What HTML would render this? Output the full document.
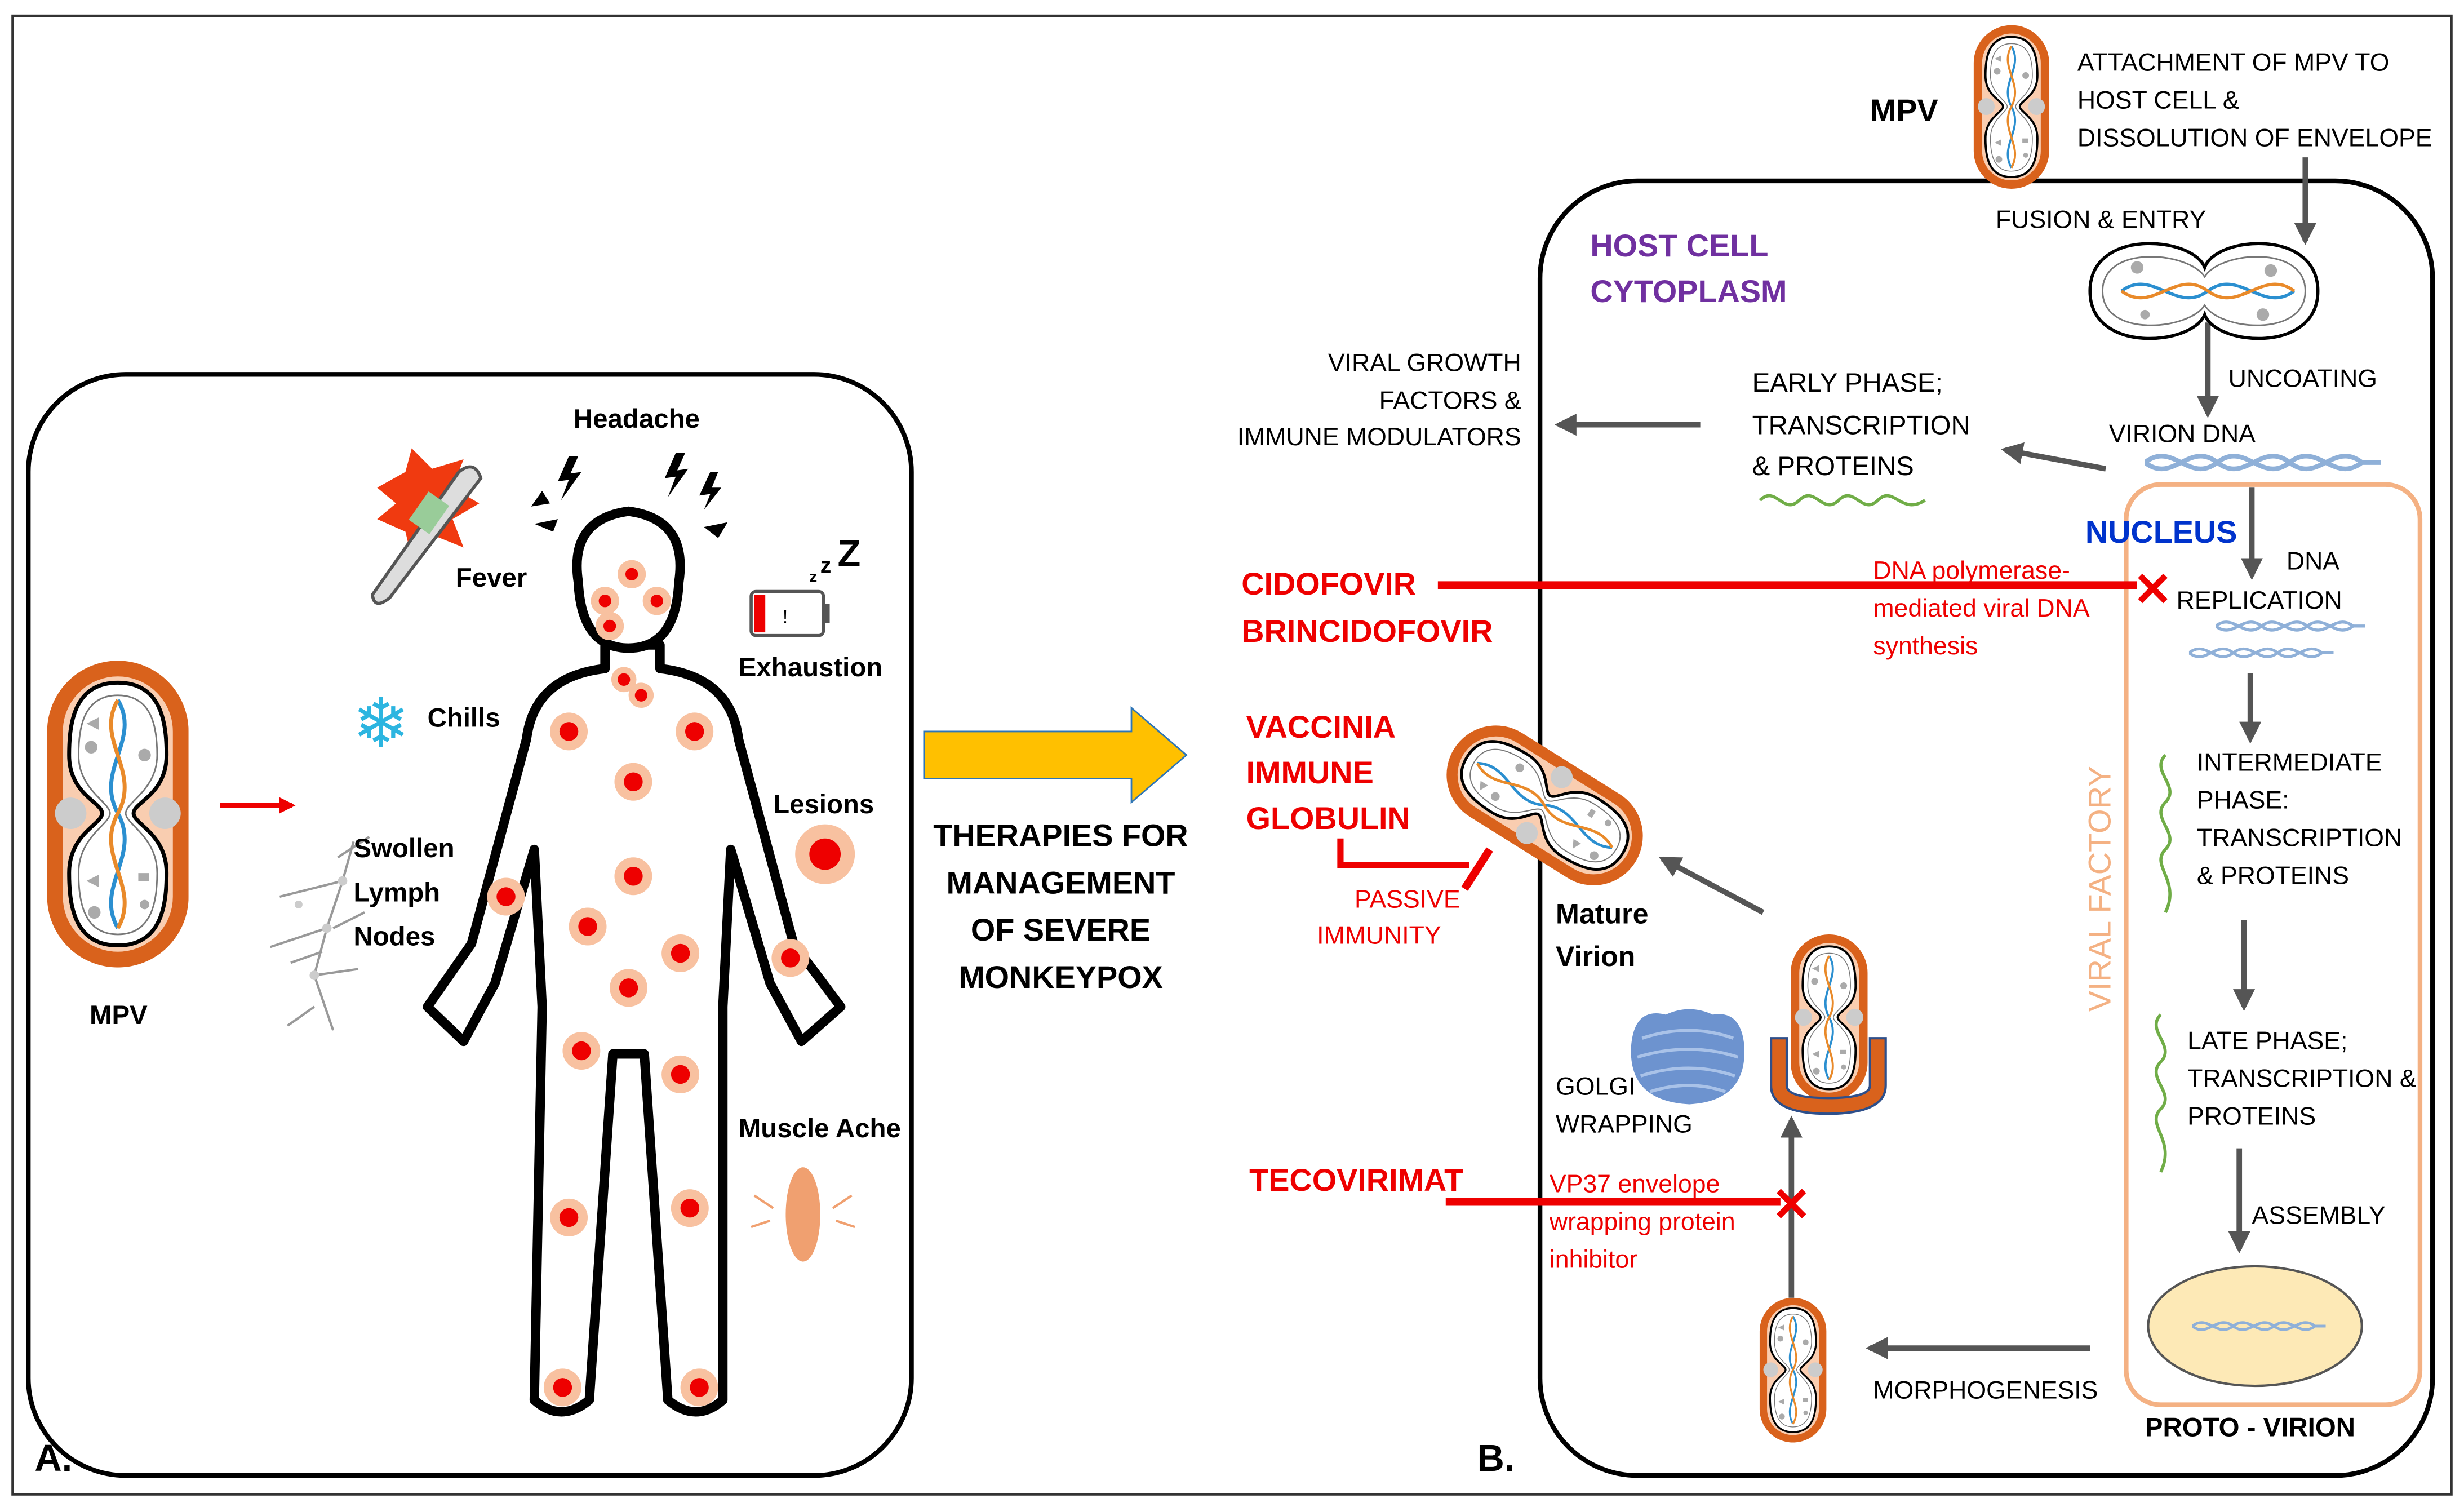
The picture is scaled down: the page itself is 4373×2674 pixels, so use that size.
<!DOCTYPE html>
<html><head><meta charset="utf-8"><style>
html,body{margin:0;padding:0;background:#fff}
svg{display:block}
text{font-family:"Liberation Sans",sans-serif}
</style></head><body>
<svg width="4373" height="2674" viewBox="0 0 1568 958" preserveAspectRatio="none" xmlns="http://www.w3.org/2000/svg">
<defs>
<marker id="ah" viewBox="0 0 10 10" refX="8" refY="5" markerWidth="4" markerHeight="4" orient="auto"><path d="M0,0L10,5L0,10Z" fill="#555"/></marker>
<marker id="ahr" viewBox="0 0 10 10" refX="8" refY="5" markerWidth="3.5" markerHeight="3.5" orient="auto"><path d="M0,0L10,5L0,10Z" fill="#e00"/></marker>
<symbol id="vir" viewBox="0 0 90 195">
<rect x="5" y="5" width="80" height="185" rx="40" fill="#f9cdb0" stroke="#d9621c" stroke-width="10"/>
<circle cx="15" cy="97" r="10" fill="#ccc"/><circle cx="75" cy="97" r="10" fill="#ccc"/>
<path d="M45,14 C73,14 76,40 76,60 C76,85 55,90 55,97 C55,104 76,110 76,135 C76,155 73,181 45,181 C17,181 14,155 14,135 C14,110 35,104 35,97 C35,90 14,85 14,60 C14,40 17,14 45,14Z" fill="#fff" stroke="#000" stroke-width="2.5"/>
<path d="M45,22 C68,22 70,45 70,60 C70,82 50,90 50,97 C50,104 70,112 70,135 C70,150 68,174 45,174 C22,174 20,150 20,135 C20,112 40,104 40,97 C40,90 20,82 20,60 C20,45 22,22 45,22Z" fill="none" stroke="#777" stroke-width="1"/>
<path d="M45,25 C60,50 30,70 45,97 C60,124 30,144 45,170" fill="none" stroke="#2b8fd0" stroke-width="2.5"/>
<path d="M45,25 C30,50 60,70 45,97 C30,124 60,144 45,170" fill="none" stroke="#e98a2a" stroke-width="2.5"/>
<g fill="#aaa"><circle cx="28" cy="55" r="4"/><circle cx="62" cy="60" r="4"/><path d="M25,40l8,-4l0,8z"/><rect x="58" y="135" width="7" height="5"/><path d="M25,140l8,-4l0,8z"/><circle cx="30" cy="160" r="4"/><circle cx="62" cy="155" r="3"/></g>
</symbol>
<symbol id="dna" viewBox="0 0 150 20">
<path d="M0,10 C18,-4 28,24 46,10 C64,-4 74,24 92,10 C110,-4 120,24 138,10 L150,10" fill="none" stroke="#8fb0d8" stroke-width="3"/>
<path d="M0,10 C18,24 28,-4 46,10 C64,24 74,-4 92,10 C110,24 120,-4 138,10 L150,10" fill="none" stroke="#8fb0d8" stroke-width="3"/>
</symbol>
</defs>
<rect x="8" y="10" width="1552" height="940" fill="none" stroke="#333" stroke-width="1.5"/>

<!-- Panel A -->
<rect x="18" y="238" width="562" height="700" rx="62" fill="none" stroke="#000" stroke-width="3"/>
<use href="#vir" x="30" y="420" width="90" height="195"/>
<text x="57" y="651" font-size="17" font-weight="bold">MPV</text>
<line x1="140" y1="512" x2="186" y2="512" stroke="#e00" stroke-width="3" marker-end="url(#ahr)"/>
<path d="M385,410 L385,425 Q340,430 335,470 L300,600 L272,640 L295,662 L315,625 L340,540 L345,640 L340,890 Q357,905 375,890 L390,670 L410,670 L425,890 Q443,905 460,890 L460,640 L465,540 L490,625 L510,662 L535,640 L505,600 L470,470 Q465,430 420,425 L420,410 Z" fill="#fff" stroke="#000" stroke-width="6" stroke-linejoin="round"/>
<path d="M368,370 Q362,330 400,325 Q438,330 432,370 Q430,412 400,412 Q370,412 368,370Z" fill="#fff" stroke="#000" stroke-width="6"/>
<g fill="#f8c1a0">
<circle cx="402" cy="365" r="9"/><circle cx="385" cy="382" r="9"/><circle cx="418" cy="382" r="9"/><circle cx="388" cy="398" r="9"/><circle cx="397" cy="432" r="8"/><circle cx="408" cy="442" r="8"/><circle cx="362" cy="465" r="12"/><circle cx="442" cy="465" r="12"/><circle cx="403" cy="497" r="12"/><circle cx="403" cy="557" r="12"/><circle cx="322" cy="570" r="12"/><circle cx="374" cy="589" r="12"/><circle cx="433" cy="606" r="12"/><circle cx="503" cy="609" r="12"/><circle cx="400" cy="628" r="12"/><circle cx="370" cy="668" r="12"/><circle cx="433" cy="683" r="12"/><circle cx="362" cy="774" r="12"/><circle cx="439" cy="768" r="12"/><circle cx="358" cy="882" r="12"/><circle cx="445" cy="882" r="12"/><circle cx="525" cy="543" r="19"/></g>
<g fill="#e00">
<circle cx="402" cy="365" r="4"/><circle cx="385" cy="382" r="4"/><circle cx="418" cy="382" r="4"/><circle cx="388" cy="398" r="4"/><circle cx="397" cy="432" r="4"/><circle cx="408" cy="442" r="4"/><circle cx="362" cy="465" r="6"/><circle cx="442" cy="465" r="6"/><circle cx="403" cy="497" r="6"/><circle cx="403" cy="557" r="6"/><circle cx="322" cy="570" r="6"/><circle cx="374" cy="589" r="6"/><circle cx="433" cy="606" r="6"/><circle cx="503" cy="609" r="6"/><circle cx="400" cy="628" r="6"/><circle cx="370" cy="668" r="6"/><circle cx="433" cy="683" r="6"/><circle cx="362" cy="774" r="6"/><circle cx="439" cy="768" r="6"/><circle cx="358" cy="882" r="6"/><circle cx="445" cy="882" r="6"/><circle cx="525" cy="543" r="10"/></g>
<text x="365" y="272" font-size="17" font-weight="bold">Headache</text>
<g fill="#000">
<path d="M362,290 L355,306 L362,305 L357,318 L370,300 L363,301 L368,290Z"/>
<path d="M430,288 L423,304 L430,303 L425,316 L438,298 L431,299 L436,288Z"/>
<path d="M345,312 L338,322 L350,320Z"/><path d="M452,300 L445,315 L452,314 L448,324 L459,310 L453,310 L457,300Z"/>
<path d="M340,333 L355,330 L352,338Z"/><path d="M448,335 L463,332 L457,342Z"/></g>
<path d="M240,310 L258,300 L262,285 L275,298 L295,292 L288,310 L305,320 L288,330 L295,348 L275,340 L262,355 L258,338 L240,330 L252,320Z" fill="#f03a10"/>
<path d="M237,378 L292,300 Q302,292 306,304 L248,380 Q238,388 237,378Z" fill="#ddd" stroke="#555" stroke-width="2"/>
<rect x="265" y="315" width="16" height="22" fill="#9c9" transform="rotate(35 273 326)"/>
<text x="290" y="373" font-size="17" font-weight="bold">Fever</text>
<rect x="478" y="376" width="46" height="28" rx="3" fill="#fff" stroke="#555" stroke-width="2"/><rect x="480" y="378" width="7" height="24" fill="#e00"/><rect x="524" y="384" width="4" height="12" fill="#555"/><text x="498" y="396" font-size="12">!</text>
<text x="515" y="370" font-size="10" font-weight="bold">z</text><text x="522" y="364" font-size="14" font-weight="bold">z</text><text x="533" y="360" font-size="24" font-weight="bold">Z</text>
<text x="470" y="430" font-size="17" font-weight="bold">Exhaustion</text>
<text x="224" y="475" font-size="44" fill="#2cb5e0">❄</text>
<text x="272" y="462" font-size="17" font-weight="bold">Chills</text>
<text x="492" y="517" font-size="17" font-weight="bold">Lesions</text>
<g stroke="#999" stroke-width="1.5" fill="none"><path d="M225,535 L218,560 L208,590 L200,620 L212,655"/><path d="M218,560 L178,570 M208,590 L172,602 M200,620 L228,616 M212,590 L232,580 M200,640 L183,652 M215,545 L235,532 M205,605 L185,612"/></g>
<g fill="#ccc"><circle cx="218" cy="560" r="3"/><circle cx="208" cy="590" r="3"/><circle cx="200" cy="620" r="3"/><circle cx="190" cy="575" r="2.5"/></g>
<text x="225" y="545" font-size="17" font-weight="bold">Swollen</text><text x="225" y="573" font-size="17" font-weight="bold">Lymph</text><text x="225" y="601" font-size="17" font-weight="bold">Nodes</text>
<text x="470" y="723" font-size="17" font-weight="bold">Muscle Ache</text>
<ellipse cx="511" cy="772" rx="11" ry="30" fill="#f0a070"/>
<g stroke="#f0a070" stroke-width="1.5"><path d="M480,760l12,8M478,780l12,-4M542,760l-12,8M544,780l-12,-4"/></g>
<text x="22" y="935" font-size="24" font-weight="bold">A.</text>

<!-- Yellow arrow -->
<path d="M588,465 L720,465 L720,450 L755,480 L720,510 L720,495 L588,495Z" fill="#ffc000" stroke="#2e75b6" stroke-width="1"/>
<g font-size="20" font-weight="bold" text-anchor="middle"><text x="675" y="538">THERAPIES FOR</text><text x="675" y="568">MANAGEMENT</text><text x="675" y="598">OF SEVERE</text><text x="675" y="628">MONKEYPOX</text></g>

<!-- Panel B -->
<rect x="980" y="115" width="568" height="823" rx="62" fill="none" stroke="#000" stroke-width="3"/>
<rect x="1353" y="308" width="187" height="585" rx="22" fill="none" stroke="#f4b183" stroke-width="3"/>
<text transform="translate(1343,565) rotate(-90)" font-size="20" fill="#f4b183" text-anchor="middle">VIRAL FACTORY</text>
<use href="#vir" x="1245" y="16" width="70" height="104"/>
<text x="1190" y="77" font-size="20" font-weight="bold">MPV</text>
<g font-size="16"><text x="1322" y="45">ATTACHMENT OF MPV TO</text><text x="1322" y="69">HOST CELL &amp;</text><text x="1322" y="93">DISSOLUTION OF ENVELOPE</text>
<text x="1270" y="145">FUSION &amp; ENTRY</text></g>
<g stroke="#555" stroke-width="3.5" fill="none" marker-end="url(#ah)">
<line x1="1467" y1="100" x2="1467" y2="153"/>
<line x1="1405" y1="205" x2="1405" y2="263"/>
<line x1="1340" y1="298" x2="1276" y2="286"/>
<line x1="1082" y1="270" x2="992" y2="270"/>
<line x1="1433" y1="310" x2="1433" y2="366"/>
<line x1="1432" y1="428" x2="1432" y2="470"/>
<line x1="1428" y1="585" x2="1428" y2="640"/>
<line x1="1425" y1="730" x2="1425" y2="794"/>
<line x1="1330" y1="857" x2="1190" y2="857"/>
<line x1="1140" y1="825" x2="1140" y2="712"/>
<line x1="1122" y1="580" x2="1058" y2="546"/>
</g>
<path d="M1330,185 C1330,145 1395,150 1403,170 C1410,150 1475,145 1475,185 C1475,225 1410,220 1403,200 C1395,220 1330,225 1330,185Z" fill="#fff" stroke="#000" stroke-width="2"/>
<path d="M1338,185 C1338,155 1393,160 1403,176 C1412,160 1467,155 1467,185 C1467,215 1412,210 1403,194 C1393,210 1338,215 1338,185Z" fill="none" stroke="#777" stroke-width="1"/>
<path d="M1350,185 C1370,170 1385,200 1405,185 C1425,170 1440,200 1460,185" fill="none" stroke="#2b8fd0" stroke-width="2"/>
<path d="M1350,185 C1370,200 1385,170 1405,185 C1425,200 1440,170 1460,185" fill="none" stroke="#e98a2a" stroke-width="2"/>
<g fill="#aaa"><circle cx="1360" cy="170" r="4"/><circle cx="1445" cy="172" r="4"/><circle cx="1365" cy="200" r="3"/><circle cx="1440" cy="200" r="4"/></g>
<text x="1012" y="163" font-size="20" font-weight="bold" fill="#7030a0">HOST CELL</text>
<text x="1012" y="192" font-size="20" font-weight="bold" fill="#7030a0">CYTOPLASM</text>
<g font-size="16">
<text x="1418" y="246">UNCOATING</text>
<text x="1342" y="281">VIRION DNA</text>
<text x="1115" y="249" font-size="17">EARLY PHASE;</text><text x="1115" y="276" font-size="17">TRANSCRIPTION</text><text x="1115" y="302" font-size="17">&amp; PROTEINS</text>
<text x="968" y="236" text-anchor="end">VIRAL GROWTH</text><text x="968" y="260" text-anchor="end">FACTORS &amp;</text><text x="968" y="283" text-anchor="end">IMMUNE MODULATORS</text>
<text x="1455" y="362">DNA</text><text x="1385" y="387">REPLICATION</text>
<text x="1398" y="490">INTERMEDIATE</text><text x="1398" y="514">PHASE:</text><text x="1398" y="538">TRANSCRIPTION</text><text x="1398" y="562">&amp; PROTEINS</text>
<text x="1392" y="667">LATE PHASE;</text><text x="1392" y="691">TRANSCRIPTION &amp;</text><text x="1392" y="715">PROTEINS</text>
<text x="1433" y="778">ASSEMBLY</text>
<text x="1192" y="889">MORPHOGENESIS</text>
<text x="990" y="696">GOLGI</text><text x="990" y="720">WRAPPING</text>
</g>
<use href="#dna" x="1365" y="284" width="150" height="20"/>
<use href="#dna" x="1410" y="391" width="95" height="14"/>
<use href="#dna" x="1393" y="408" width="92" height="14"/>
<path d="M1120,318 C1130,308 1135,328 1145,318 C1155,308 1160,328 1170,318 C1180,308 1185,328 1195,318 C1205,308 1210,328 1225,318" fill="none" stroke="#70ad47" stroke-width="2"/>
<path d="M1378,480 C1368,490 1388,500 1378,510 C1368,520 1388,530 1378,540 C1368,550 1388,560 1378,580" fill="none" stroke="#70ad47" stroke-width="2"/>
<path d="M1375,645 C1365,655 1385,665 1375,675 C1365,685 1385,695 1375,705 C1365,715 1385,725 1375,745" fill="none" stroke="#70ad47" stroke-width="2"/>
<text x="1327" y="345" font-size="20" font-weight="bold" fill="#0033cc">NUCLEUS</text>
<ellipse cx="1435" cy="843" rx="68" ry="38" fill="#fde9b6" stroke="#555" stroke-width="1.5"/>
<use href="#dna" x="1395" y="833" width="85" height="20"/>
<text x="1365" y="913" font-size="17" font-weight="bold">PROTO - VIRION</text>
<use href="#vir" x="1112" y="825" width="58" height="92"/>
<use href="#vir" x="1136" y="594" width="56" height="106"/>
<path d="M1127,660 L1127,690 Q1127,708 1163,708 Q1200,708 1200,690 L1200,660 L1190,660 L1190,690 Q1190,698 1163,698 Q1137,698 1137,690 L1137,660Z" fill="#d9621c" stroke="#2e4f8a" stroke-width="1.5"/>
<path d="M1038,665 Q1040,640 1060,645 Q1075,638 1090,645 Q1108,642 1110,665 Q1112,700 1075,702 Q1036,700 1038,665Z" fill="#6d93cf"/>
<g fill="none" stroke="#a9c2e8" stroke-width="2"><path d="M1045,660 Q1075,650 1103,660"/><path d="M1042,672 Q1075,662 1106,672"/><path d="M1044,684 Q1075,674 1104,684"/><path d="M1050,694 Q1075,686 1098,694"/></g>
<g transform="translate(983,512) rotate(32)"><use href="#vir" x="-38" y="-68" width="76" height="136" transform="rotate(-90)"/></g>
<text x="990" y="587" font-size="18" font-weight="bold">Mature</text>
<text x="990" y="614" font-size="18" font-weight="bold">Virion</text>
<!-- drugs -->
<g font-size="20" font-weight="bold" fill="#e00">
<text x="790" y="378">CIDOFOVIR</text><text x="790" y="408">BRINCIDOFOVIR</text>
<text x="793" y="469">VACCINIA</text><text x="793" y="498">IMMUNE</text><text x="793" y="527">GLOBULIN</text>
<text x="795" y="757">TECOVIRIMAT</text></g>
<line x1="915" y1="372" x2="1360" y2="372" stroke="#e00" stroke-width="5"/>
<text x="1370" y="385" font-size="30" font-weight="bold" fill="#e00" text-anchor="middle">✕</text>
<line x1="920" y1="764" x2="1133" y2="764" stroke="#e00" stroke-width="5"/>
<text x="1140" y="776" font-size="30" font-weight="bold" fill="#e00" text-anchor="middle">✕</text>
<path d="M853,533 L853,550 L935,550" fill="none" stroke="#e00" stroke-width="4"/>
<line x1="932" y1="565" x2="948" y2="540" stroke="#e00" stroke-width="5"/>
<g font-size="16" fill="#e00">
<text x="1192" y="368">DNA polymerase-</text><text x="1192" y="392">mediated viral DNA</text><text x="1192" y="416">synthesis</text>
<text x="862" y="577">PASSIVE</text><text x="838" y="600">IMMUNITY</text>
<text x="986" y="758">VP37 envelope</text><text x="986" y="782">wrapping protein</text><text x="986" y="806">inhibitor</text>
</g>
<text x="940" y="935" font-size="24" font-weight="bold">B.</text>
</svg>
</body></html>
